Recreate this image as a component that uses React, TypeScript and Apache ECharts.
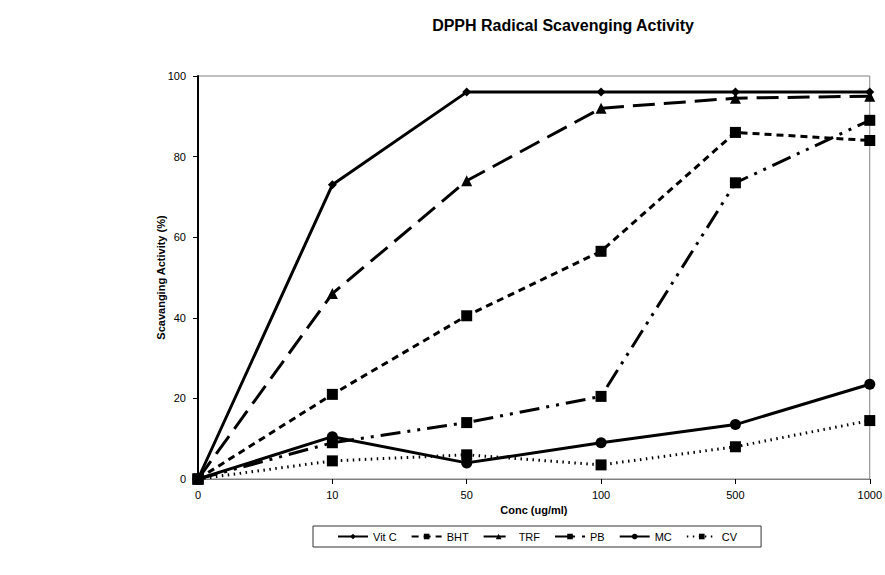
import React, { useEffect, useRef } from "react";
import * as echarts from "echarts";

const categories = ["0", "10", "50", "100", "500", "1000"];
const vitC = [0, 73, 96, 96, 96, 96];
const bht = [0, 21, 40.5, 56.5, 86, 84];
const trf = [0, 46, 74, 92, 94.5, 95];
const pb = [0, 9, 14, 20.5, 73.5, 89];
const mc = [0, 10.5, 4, 9, 13.5, 23.5];
const cv = [0, 4.5, 6, 3.5, 8, 14.5];

const FONT = "Liberation Sans, Arial, sans-serif";

export default function App() {
  const ref = useRef<HTMLDivElement>(null);
  useEffect(() => {
    if (!ref.current) return;
    const chart = echarts.init(ref.current, undefined, { renderer: "svg" });
    const mk = (
      name: string,
      data: number[],
      symbol: string,
      symbolSize: number,
      type: any
    ) => ({
      name,
      type: "line",
      data,
      symbol,
      symbolSize,
      showAllSymbol: true,
      itemStyle: { color: "#000" },
      lineStyle: { color: "#000", width: 3, type, cap: "butt" },
      emphasis: { disabled: true },
    });
    chart.setOption({
      animation: false,
      backgroundColor: "#fff",
      title: {
        text: "DPPH Radical Scavenging Activity",
        left: 558,
        textAlign: "center",
        top: 12,
        textStyle: {
          fontFamily: FONT,
          fontWeight: "bold",
          fontSize: 16,
          color: "#000",
        },
      },
      legend: {
        left: 313,
        top: 526,
        width: 560,
        padding: [5, 24, 5, 24],
        itemGap: 14,
        itemWidth: 30,
        itemHeight: 7,
        borderColor: "#333",
        borderWidth: 1,
        borderRadius: 0,
        textStyle: { fontFamily: FONT, fontSize: 11, color: "#000" },
        data: ["Vit C", "BHT", "TRF", "PB", "MC", "CV"],
      },
      grid: {
        left: 198,
        right: 10,
        top: 76,
        bottom: 96,
        show: true,
        borderColor: "#808080",
        borderWidth: 1,
      },
      xAxis: {
        type: "category",
        data: categories,
        boundaryGap: false,
        name: "Conc (ug/ml)",
        nameLocation: "middle",
        nameGap: 25,
        nameTextStyle: {
          fontFamily: FONT,
          fontWeight: "bold",
          fontSize: 11,
          color: "#000",
        },
        axisLine: { lineStyle: { color: "#808080", width: 1 } },
        axisTick: { show: true, alignWithLabel: true, length: 5, lineStyle: { color: "#000" } },
        axisLabel: { fontFamily: FONT, fontSize: 11, color: "#000", margin: 10 },
        splitLine: { show: false },
      },
      yAxis: {
        type: "value",
        min: 0,
        max: 100,
        interval: 20,
        name: "Scavanging Activity (%)",
        nameLocation: "middle",
        nameGap: 32,
        nameMoveOverlap: false,
        nameTextStyle: {
          fontFamily: FONT,
          fontWeight: "bold",
          fontSize: 11,
          color: "#000",
        },
        axisLine: { show: true, lineStyle: { color: "#000", width: 2 } },
        axisTick: { show: true, length: 5, lineStyle: { color: "#000" } },
        axisLabel: { fontFamily: FONT, fontSize: 11, color: "#000", margin: 12 },
        splitLine: { show: false },
      },
      series: [
        mk("Vit C", vitC, "diamond", 9, "solid"),
        mk("BHT", bht, "rect", 11, [7, 5]),
        mk("TRF", trf, "triangle", 11, [22, 9]),
        mk("PB", pb, "rect", 11, [20, 7, 3, 7, 3, 7]),
        mk("MC", mc, "circle", 11, "solid"),
        mk("CV", cv, "rect", 11, [1.5, 4.5]),
      ],
    });
    return () => chart.dispose();
  }, []);
  return (
    <div
      ref={ref}
      style={{ position: "absolute", left: 0, top: 0, width: 885, height: 575 }}
    />
  );
}
